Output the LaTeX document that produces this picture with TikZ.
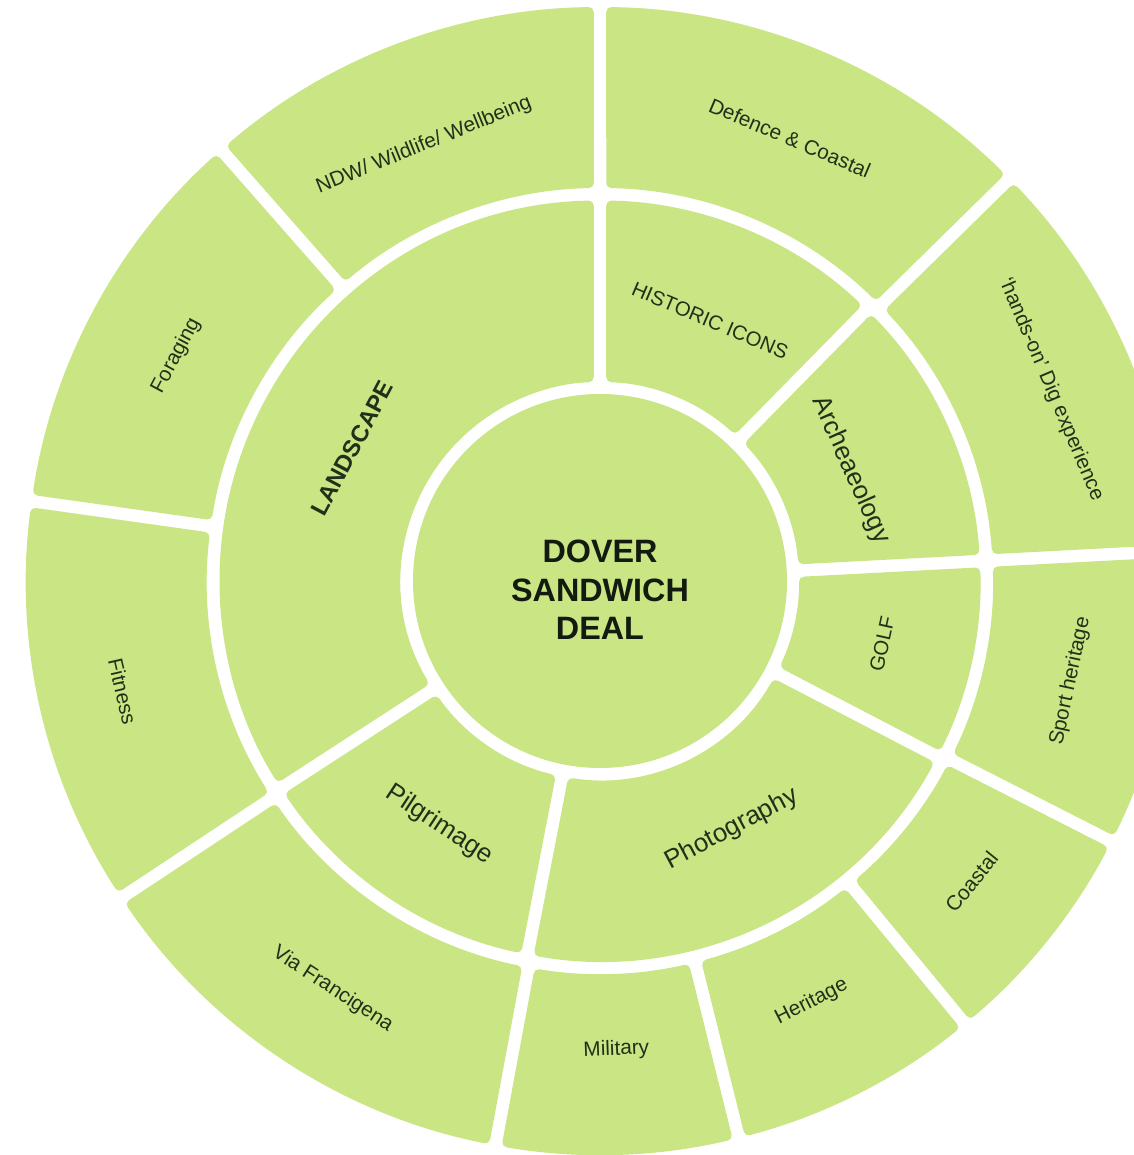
\documentclass[tikz,border=0pt]{standalone}
\usepackage{fontspec}
\setmainfont{Liberation Sans}
\usepackage{xcolor}
\usepackage{tikz}
\usetikzlibrary{calc}
\definecolor{leaf}{HTML}{C9E584}
\definecolor{ink}{HTML}{22301A}
\definecolor{inkD}{HTML}{131A0F}
\tikzset{
  seg/.style  ={fill=leaf, rounded corners=1mm},
  lbl/.style  ={text=ink, inner sep=0pt},
  outl/.style ={lbl, font=\fontsize{11.8}{14}\selectfont},
  innl/.style ={lbl, font=\fontsize{14.7}{17}\selectfont},
  smal/.style ={lbl, font=\fontsize{11.6}{14}\selectfont},
  hub/.style  ={text=inkD, align=center, inner sep=0pt,
                font=\fontsize{18.4}{22}\selectfont\bfseries},
}
% ring part: start angle, end angle, inner radius, outer radius
\newcommand{\ringpart}[4]{%
  \fill[seg] ({#1+asin(6.25/(0.5*(#3+#4)))}:{0.5*(#3+#4)})
    -- ({#1+asin(6.25/#4)}:#4)
    arc[start angle={#1+asin(6.25/#4)}, end angle={#2-asin(6.25/#4)}, radius=#4]
    -- ({#2-asin(6.25/#3)}:#3)
    arc[start angle={#2-asin(6.25/#3)}, end angle={#1+asin(6.25/#3)}, radius=#3]
    -- cycle;}

\begin{document}
\begin{tikzpicture}[x=0.2mm, y=0.2mm]
  \useasboundingbox (-600,-574) rectangle (533,581);
  \fill[leaf] (0,0) circle[radius=187];
  \ringpart{90}{213}{199}{380.5}
  \ringpart{45.5}{90}{199}{380.5}
  \ringpart{3}{45.5}{199}{380.5}
  \ringpart{-27.5}{3}{199}{380.5}
  \ringpart{-101}{-27.5}{199}{380.5}
  \ringpart{-147}{-101}{199}{380.5}
  \ringpart{90}{131.3}{393}{574}
  \ringpart{131.3}{172}{393}{574}
  \ringpart{172}{213.5}{393}{574}
  \ringpart{213.5}{259.5}{393}{574}
  \ringpart{-100.5}{-76}{393}{574}
  \ringpart{-76}{-50.5}{393}{574}
  \ringpart{-50.5}{-27}{393}{574}
  \ringpart{-27}{3}{393}{574}
  \ringpart{3}{44.5}{393}{574}
  \ringpart{44.5}{90}{393}{574}

  \node[hub] (dsd) at (0,-9) {DOVER\\SANDWICH\\DEAL};

  \node[innl, font=\fontsize{13.5}{16}\selectfont\bfseries, rotate=62] (lan) at (151.8:281) {LANDSCAPE};
  \node[smal, rotate=-23]  (his) at (67.1:283)   {HISTORIC ICONS};
  \node[innl, rotate=-66]  (arc) at (23.9:274)   {Archeaeology};
  \node[smal, rotate=77.4] (gol) at (-12.6:289)  {GOLF};
  \node[innl, rotate=28]   (pho) at (-62:281)    {Photography};
  \node[innl, rotate=-33.4](pil) at (-123.4:292) {Pilgrimage};

  \node[outl, rotate=22]   (ndw) at (112:470)    {NDW/ Wildlife/ Wellbeing};
  \node[outl, rotate=-23]  (def) at (66.8:482)   {Defence \& Coastal};
  \node[outl, rotate=-67]  (dig) at (23:490)     {`hands-on' Dig experience};
  \node[outl, rotate=78]   (spo) at (-12:481)    {Sport heritage};
  \node[outl, rotate=51]   (coa) at (-39:478)    {Coastal};
  \node[outl, rotate=27]   (her) at (-63.3:471)  {Heritage};
  \node[outl, rotate=2]    (mil) at (-88:469)    {Military};
  \node[outl, rotate=-33]  (via) at (-123.2:488) {Via Francigena};
  \node[outl, rotate=-77]  (fit) at (193:490)    {Fitness};
  \node[outl, rotate=62]   (for) at (152:480)    {Foraging};
\end{tikzpicture}
\end{document}
